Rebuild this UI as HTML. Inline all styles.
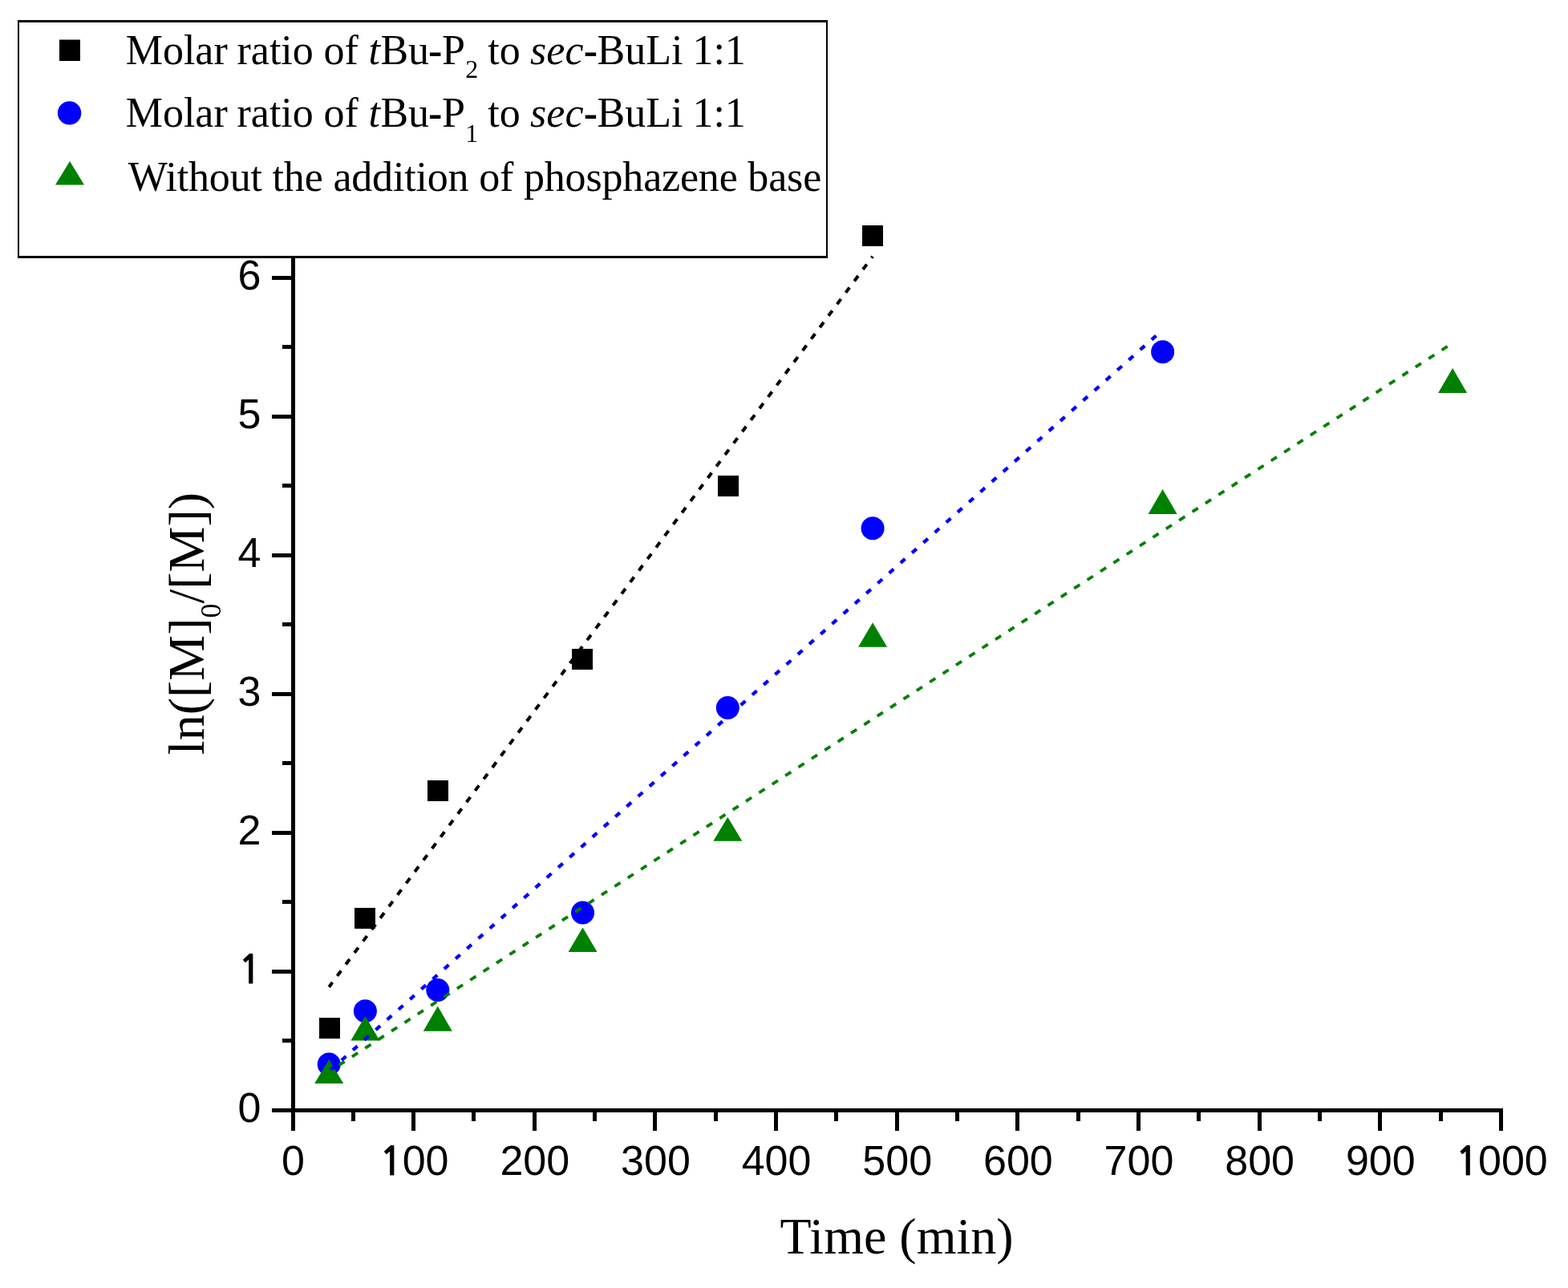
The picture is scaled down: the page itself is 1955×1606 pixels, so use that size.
<!DOCTYPE html><html><head><meta charset="utf-8"><title>ln([M]0/[M]) vs Time</title><style>
html,body{margin:0;padding:0;background:#fff;}body{width:1955px;height:1606px;overflow:hidden;}svg{display:block;}
.tk{font-family:"Liberation Sans",Arial,sans-serif;font-size:52px;fill:#000;}
.ti{font-family:"Liberation Serif","Times New Roman",serif;font-size:64px;fill:#000;}
.one{font-family:"NanumGothic","Liberation Sans",sans-serif;font-weight:bold;font-size:49.1px;}
.lg{font-family:"Liberation Serif","Times New Roman",serif;font-size:52px;fill:#000;}
</style></head><body>
<svg width="1955" height="1606" viewBox="0 0 1955 1606">
<rect x="0" y="0" width="1955" height="1606" fill="#fff"/>
<g fill="#000">
<rect x="363" y="200" width="5" height="1210"/>
<rect x="339" y="1382" width="1535" height="5"/>
<rect x="438" y="1387" width="5" height="11"/>
<rect x="513" y="1387" width="5" height="23"/>
<rect x="588" y="1387" width="5" height="11"/>
<rect x="664" y="1387" width="5" height="23"/>
<rect x="739" y="1387" width="5" height="11"/>
<rect x="814" y="1387" width="5" height="23"/>
<rect x="890" y="1387" width="5" height="11"/>
<rect x="965" y="1387" width="5" height="23"/>
<rect x="1040" y="1387" width="5" height="11"/>
<rect x="1116" y="1387" width="5" height="23"/>
<rect x="1191" y="1387" width="5" height="11"/>
<rect x="1266" y="1387" width="5" height="23"/>
<rect x="1342" y="1387" width="5" height="11"/>
<rect x="1417" y="1387" width="5" height="23"/>
<rect x="1492" y="1387" width="5" height="11"/>
<rect x="1568" y="1387" width="5" height="23"/>
<rect x="1643" y="1387" width="5" height="11"/>
<rect x="1718" y="1387" width="5" height="23"/>
<rect x="1794" y="1387" width="5" height="11"/>
<rect x="1869" y="1387" width="5" height="23"/>
<rect x="352" y="1295" width="11" height="5"/>
<rect x="339" y="1209" width="24" height="5"/>
<rect x="352" y="1122" width="11" height="5"/>
<rect x="339" y="1036" width="24" height="5"/>
<rect x="352" y="949" width="11" height="5"/>
<rect x="339" y="863" width="24" height="5"/>
<rect x="352" y="776" width="11" height="5"/>
<rect x="339" y="690" width="24" height="5"/>
<rect x="352" y="603" width="11" height="5"/>
<rect x="339" y="517" width="24" height="5"/>
<rect x="352" y="430" width="11" height="5"/>
<rect x="339" y="344" width="24" height="5"/>
<rect x="352" y="257" width="11" height="5"/>
</g>
<text class="tk" y="1465.30"><tspan x="351.04">0</tspan></text>
<text class="tk" y="1465.30"><tspan x="472.84" class="one">1</tspan><tspan x="501.68">0</tspan><tspan x="530.60">0</tspan></text>
<text class="tk" y="1465.30"><tspan x="623.40">2</tspan><tspan x="652.32">0</tspan><tspan x="681.24">0</tspan></text>
<text class="tk" y="1465.30"><tspan x="774.04">3</tspan><tspan x="802.96">0</tspan><tspan x="831.88">0</tspan></text>
<text class="tk" y="1465.30"><tspan x="924.68">4</tspan><tspan x="953.60">0</tspan><tspan x="982.52">0</tspan></text>
<text class="tk" y="1465.30"><tspan x="1075.32">5</tspan><tspan x="1104.24">0</tspan><tspan x="1133.16">0</tspan></text>
<text class="tk" y="1465.30"><tspan x="1225.96">6</tspan><tspan x="1254.88">0</tspan><tspan x="1283.80">0</tspan></text>
<text class="tk" y="1465.30"><tspan x="1376.60">7</tspan><tspan x="1405.52">0</tspan><tspan x="1434.44">0</tspan></text>
<text class="tk" y="1465.30"><tspan x="1527.24">8</tspan><tspan x="1556.16">0</tspan><tspan x="1585.08">0</tspan></text>
<text class="tk" y="1465.30"><tspan x="1677.88">9</tspan><tspan x="1706.80">0</tspan><tspan x="1735.72">0</tspan></text>
<text class="tk" y="1465.30"><tspan x="1814.14" class="one">1</tspan><tspan x="1842.98">0</tspan><tspan x="1871.90">0</tspan><tspan x="1900.82">0</tspan></text>
<text class="tk" y="1399.40"><tspan x="296.58">0</tspan></text>
<text class="tk" y="1226.35"><tspan x="296.66" class="one">1</tspan></text>
<text class="tk" y="1053.30"><tspan x="296.58">2</tspan></text>
<text class="tk" y="880.25"><tspan x="296.58">3</tspan></text>
<text class="tk" y="707.20"><tspan x="296.58">4</tspan></text>
<text class="tk" y="534.15"><tspan x="296.58">5</tspan></text>
<text class="tk" y="361.10"><tspan x="296.58">6</tspan></text>
<text class="ti" x="1118" y="1563.3" text-anchor="middle">Time (min)</text>
<text class="ti" transform="translate(254.3,777.5) rotate(-90)" text-anchor="middle">ln([M]<tspan font-size="36" dy="21">0</tspan><tspan dy="-21">/[M])</tspan></text>
<g fill="#000">
<rect x="398.00" y="1269.00" width="26" height="26"/>
<rect x="442.00" y="1132.00" width="26" height="26"/>
<rect x="533.00" y="973.00" width="26" height="26"/>
<rect x="713.00" y="809.00" width="26" height="26"/>
<rect x="895.00" y="593.00" width="26" height="26"/>
<rect x="1075.00" y="281.00" width="26" height="26"/>
</g><g fill="#0000ff">
<circle cx="410.19" cy="1327.00" r="14.5"/>
<circle cx="455.38" cy="1260.70" r="14.5"/>
<circle cx="545.77" cy="1234.40" r="14.5"/>
<circle cx="726.54" cy="1137.90" r="14.5"/>
<circle cx="907.30" cy="882.40" r="14.5"/>
<circle cx="1088.07" cy="658.80" r="14.5"/>
<circle cx="1449.61" cy="438.70" r="14.5"/>
</g><g fill="#008000">
<polygon points="410.19,1320.90 392.19,1351.00 428.19,1351.00"/>
<polygon points="455.38,1266.90 437.38,1297.40 473.38,1297.40"/>
<polygon points="545.77,1254.60 527.77,1285.70 563.77,1285.70"/>
<polygon points="726.54,1156.60 708.54,1187.00 744.54,1187.00"/>
<polygon points="907.30,1018.80 889.30,1048.80 925.30,1048.80"/>
<polygon points="1088.07,776.20 1070.07,806.70 1106.07,806.70"/>
<polygon points="1449.61,610.00 1431.61,640.90 1467.61,640.90"/>
<polygon points="1811.14,458.90 1793.14,489.90 1829.14,489.90"/>
</g>
<line x1="410.19" y1="1230.70" x2="1088.07" y2="319.70" stroke="#000" stroke-width="4.00" stroke-dasharray="8.00 10.00" stroke-dashoffset="0.80" fill="none"/>
<line x1="410.19" y1="1335.90" x2="1449.61" y2="411.30" stroke="#0000ff" stroke-width="4.30" stroke-dasharray="7.50 11.54" stroke-dashoffset="-1.85" fill="none"/>
<line x1="410.19" y1="1336.20" x2="1811.14" y2="427.70" stroke="#008000" stroke-width="3.80" stroke-dasharray="8.50 11.01" stroke-dashoffset="4.75" fill="none"/>
<rect x="22" y="25" width="1010" height="297" fill="#000"/>
<rect x="24" y="28" width="1006" height="291" fill="#fff"/>
<rect x="74" y="49.5" width="26" height="26.5" fill="#000"/>
<circle cx="86.6" cy="140.9" r="14.7" fill="#0000ff"/>
<polygon points="87,201 69,230.5 105,230.5" fill="#008000"/>
<text class="lg" y="80.00"><tspan x="156.70">Molar </tspan><tspan x="295.50">ratio </tspan><tspan x="403.40">of </tspan><tspan x="459.50" font-style="italic">t</tspan><tspan x="474.40">Bu</tspan><tspan x="534.10" font-weight="bold">-</tspan><tspan x="550.90">P</tspan><tspan x="580.20" dy="17.00" font-size="32">2</tspan><tspan x="595.20" dy="-17.00"> to </tspan><tspan x="661.10" font-style="italic">sec</tspan><tspan x="727.70" font-weight="bold">-</tspan><tspan x="744.50">BuLi </tspan><tspan x="863.40">1:1</tspan></text>
<text class="lg" y="157.90"><tspan x="156.70">Molar </tspan><tspan x="295.50">ratio </tspan><tspan x="403.40">of </tspan><tspan x="459.50" font-style="italic">t</tspan><tspan x="474.40">Bu</tspan><tspan x="534.10" font-weight="bold">-</tspan><tspan x="550.90">P</tspan><tspan x="580.20" dy="19.10" font-size="32">1</tspan><tspan x="595.20" dy="-19.10"> to </tspan><tspan x="661.10" font-style="italic">sec</tspan><tspan x="727.70" font-weight="bold">-</tspan><tspan x="744.50">BuLi </tspan><tspan x="863.40">1:1</tspan></text>
<text class="lg" x="159.7" y="238" letter-spacing="-0.18">Without the addition of phosphazene base</text>
</svg></body></html>
